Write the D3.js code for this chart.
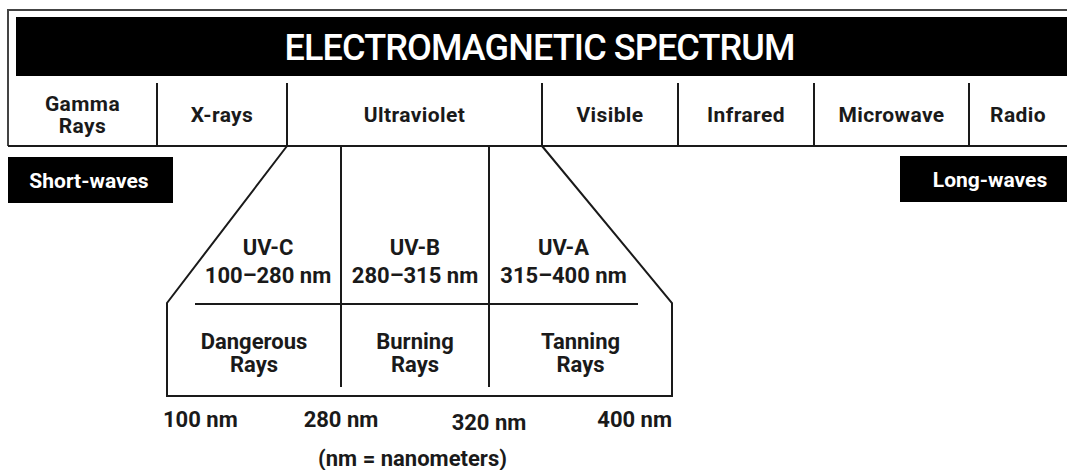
<!DOCTYPE html>
<html>
<head>
<meta charset="utf-8">
<title>Electromagnetic Spectrum</title>
<script src="https://d3js.org/d3.v7.min.js"></script>
<style>
  body { margin: 0; background: #fff; }
  svg text {
    font-family: Roboto, "Liberation Sans", sans-serif;
    font-weight: bold;
    fill: #1a1a1a;
  }
</style>
</head>
<body>
<svg id="chart" width="1067" height="470"></svg>
<script>
  // chart content
  const title = "ELECTROMAGNETIC SPECTRUM";
  const spectrum = [["Gamma", "Rays"], ["X-rays"], ["Ultraviolet"], ["Visible"], ["Infrared"], ["Microwave"], ["Radio"]];
  const waveLabels = ["Short-waves", "Long-waves"];
  const uvBands = ["UV-C", "UV-B", "UV-A"];
  const uvRanges = ["100–280 nm", "280–315 nm", "315–400 nm"];
  const uvEffects = [["Dangerous", "Rays"], ["Burning", "Rays"], ["Tanning", "Rays"]];
  const nmTicks = ["100 nm", "280 nm", "320 nm", "400 nm"];
  const footnote = "(nm = nanometers)";

  const svg = d3.select("#chart");
  const ink = "#1a1a1a";

  // cell edges of the spectrum row (left edge of each band, plus the right end)
  const rowEdges = [8, 157, 287, 542, 678, 814, 969, 1067];
  const cellX = d3.scaleOrdinal().domain(d3.range(rowEdges.length)).range(rowEdges);

  // columns of the UV zoom box
  const colEdges = [167, 341, 489, 672];
  const topEdges = [195, 341, 489, 638];
  const colX = d3.scaleOrdinal().domain(d3.range(4)).range(colEdges);
  const topX = d3.scaleOrdinal().domain(d3.range(4)).range(topEdges);

  // outer frame + title band
  svg.append("path")
    .attr("d", "M8,146 V10 H1067")
    .attr("fill", "none").attr("stroke", "#444").attr("stroke-width", 2);

  svg.append("rect")
    .attr("x", 16).attr("y", 17).attr("width", 1060).attr("height", 59)
    .attr("fill", "#000");

  svg.append("text")
    .attr("x", 540).attr("y", 60)
    .attr("text-anchor", "middle")
    .attr("textLength", 511).attr("lengthAdjust", "spacing")
    .style("font-size", "36px").style("font-weight", "500").style("fill", "#fff")
    .text(title);

  // spectrum row
  svg.append("line")
    .attr("x1", 8).attr("x2", 1067).attr("y1", 146).attr("y2", 146)
    .attr("stroke", ink).attr("stroke-width", 2);

  svg.selectAll(".divider")
    .data(d3.range(1, spectrum.length))
    .join("line")
    .attr("class", "divider")
    .attr("x1", d => cellX(d)).attr("x2", d => cellX(d))
    .attr("y1", 83).attr("y2", 146)
    .attr("stroke", ink).attr("stroke-width", 2);

  svg.selectAll(".band-label")
    .data(spectrum)
    .join("text")
    .attr("class", "band-label")
    .attr("text-anchor", "middle")
    .style("font-size", "21px").style("letter-spacing", "0.4px")
    .each(function (lines, i) {
      const cx = (cellX(i) + cellX(i + 1)) / 2;
      const y0 = lines.length > 1 ? 111 : 122;
      d3.select(this).selectAll("tspan")
        .data(lines)
        .join("tspan")
        .attr("x", cx)
        .attr("y", (d, j) => y0 + j * 22)
        .text(d => d);
    });

  // short / long wave tags
  const tags = [{ x: 8, y: 157, w: 165, cx: 89 }, { x: 900, y: 156, w: 180, cx: 990 }];
  svg.selectAll(".tag")
    .data(waveLabels)
    .join("rect")
    .attr("class", "tag")
    .attr("x", (d, i) => tags[i].x).attr("y", (d, i) => tags[i].y)
    .attr("width", (d, i) => tags[i].w).attr("height", 46)
    .attr("fill", "#000");

  svg.selectAll(".tag-label")
    .data(waveLabels)
    .join("text")
    .attr("class", "tag-label")
    .attr("x", (d, i) => tags[i].cx).attr("y", (d, i) => tags[i].y + 31)
    .attr("text-anchor", "middle")
    .style("font-size", "21px").style("fill", "#fff")
    .text(d => d);

  // UV zoom box
  const uvLeft = cellX(2), uvRight = cellX(3);
  svg.append("path")
    .attr("d", `M${uvLeft},146 L${colX(0)},303 V396 H${colX(3)} V303 L${uvRight},146`)
    .attr("fill", "none").attr("stroke", ink).attr("stroke-width", 2)
    .attr("stroke-linejoin", "miter");

  svg.append("line")
    .attr("x1", topX(0)).attr("x2", topX(3)).attr("y1", 304).attr("y2", 304)
    .attr("stroke", ink).attr("stroke-width", 2);

  svg.selectAll(".uv-divider")
    .data([1, 2])
    .join("line")
    .attr("class", "uv-divider")
    .attr("x1", d => colX(d)).attr("x2", d => colX(d))
    .attr("y1", 146).attr("y2", 387)
    .attr("stroke", ink).attr("stroke-width", 2);

  svg.selectAll(".uv-band")
    .data(uvBands)
    .join("text")
    .attr("class", "uv-band")
    .attr("x", (d, i) => (topX(i) + topX(i + 1)) / 2).attr("y", 255)
    .attr("text-anchor", "middle")
    .style("font-size", "22px")
    .text(d => d);

  svg.selectAll(".uv-range")
    .data(uvRanges)
    .join("text")
    .attr("class", "uv-range")
    .attr("x", (d, i) => (topX(i) + topX(i + 1)) / 2).attr("y", 283)
    .attr("text-anchor", "middle")
    .style("font-size", "22px")
    .text(d => d);

  svg.selectAll(".uv-effect")
    .data(uvEffects)
    .join("text")
    .attr("class", "uv-effect")
    .attr("text-anchor", "middle")
    .style("font-size", "22px")
    .each(function (lines, i) {
      const cx = (colX(i) + colX(i + 1)) / 2;
      d3.select(this).selectAll("tspan")
        .data(lines)
        .join("tspan")
        .attr("x", cx)
        .attr("y", (d, j) => 349 + j * 23)
        .text(d => d);
    });

  // nm ticks under the box
  const tickAnchor = ["start", "middle", "middle", "end"];
  const tickY = [427, 427, 430, 427];
  svg.selectAll(".nm-tick")
    .data(nmTicks)
    .join("text")
    .attr("class", "nm-tick")
    .attr("x", (d, i) => colX(i) + (i === 0 ? -4 : 0))
    .attr("y", (d, i) => tickY[i])
    .attr("text-anchor", (d, i) => tickAnchor[i])
    .style("font-size", "22px")
    .text(d => d);

  svg.append("text")
    .attr("x", (uvLeft + uvRight) / 2 - 2).attr("y", 466)
    .attr("text-anchor", "middle")
    .style("font-size", "22px")
    .text(footnote);
</script>
</body>
</html>
